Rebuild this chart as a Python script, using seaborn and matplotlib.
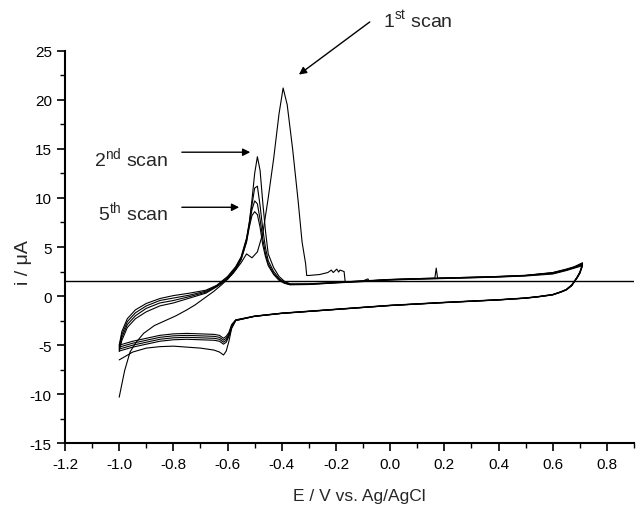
# Load libraries
import numpy as np
import pandas as pd
import matplotlib.pyplot as plt
import seaborn as sns
from matplotlib.ticker import MultipleLocator, FormatStrFormatter

# Potentials (V vs Ag/AgCl) for the anodic sweep of scans 2-5
E_up = [-1.00, -0.99, -0.97, -0.94, -0.90, -0.85, -0.80, -0.74, -0.68, -0.64,
        -0.60, -0.57, -0.55, -0.53, -0.52, -0.51, -0.50, -0.49, -0.48, -0.47,
        -0.46, -0.45, -0.43, -0.41, -0.39, -0.37, -0.30, -0.20, -0.10, 0.00,
        0.10, 0.20, 0.30, 0.40, 0.50, 0.60, 0.65, 0.68, 0.71]

# Potentials for the cathodic sweep (all scans)
E_down = [0.71, 0.705, 0.70, 0.69, 0.68, 0.67, 0.65, 0.63, 0.60, 0.55,
          0.50, 0.40, 0.20, 0.00, -0.20, -0.40, -0.50, -0.57, -0.585, -0.595,
          -0.605, -0.615, -0.63, -0.65, -0.70, -0.75, -0.80, -0.85, -0.90, -0.95,
          -1.00]

# 1st scan, anodic sweep (own potentials, noisy after the big peak)
E1_up = [-1.00, -0.98, -0.96, -0.94, -0.91, -0.87, -0.83, -0.79, -0.75, -0.72,
         -0.68, -0.65, -0.62, -0.58, -0.55, -0.53, -0.51, -0.49, -0.47, -0.45,
         -0.43, -0.41, -0.395, -0.38, -0.36, -0.34, -0.325, -0.312, -0.308, -0.30,
         -0.26, -0.23, -0.217, -0.21, -0.197, -0.19, -0.185, -0.17, -0.166, -0.10,
         -0.082, -0.078, 0.0, 0.10, 0.165, 0.17, 0.175, 0.30, 0.40, 0.50,
         0.60, 0.65, 0.68, 0.71]
i1_up = [-10.3, -7.6, -5.7, -4.8, -3.8, -3.0, -2.5, -2.0, -1.4, -0.9,
         -0.1, 0.5, 1.2, 2.3, 3.4, 4.3, 3.9, 4.5, 6.4, 10.0,
         14.0, 18.6, 21.2, 19.5, 15.0, 9.8, 5.5, 3.3, 2.1, 2.1,
         2.2, 2.4, 2.65, 2.4, 2.75, 2.45, 2.65, 2.5, 1.45, 1.55,
         1.75, 1.55, 1.68, 1.78, 1.83, 2.85, 1.83, 1.92, 2.0, 2.1,
         2.38, 2.7, 2.95, 3.3]
i1_down = [3.3, 2.8, 2.4, 1.9, 1.5, 1.1, 0.65, 0.42, 0.14, -0.05,
           -0.2, -0.38, -0.65, -0.95, -1.35, -1.75, -2.05, -2.5, -3.3, -4.6,
           -5.6, -6.0, -5.7, -5.5, -5.3, -5.2, -5.1, -5.15, -5.3, -5.7,
           -6.5]

# scans 2-5 (uA)
i2_up = [-5.0, -3.6, -2.3, -1.4, -0.75, -0.25, 0.05, 0.3, 0.6, 1.1,
         2.0, 3.0, 4.0, 5.9, 7.5, 9.8, 12.5, 14.2, 12.8, 9.5,
         6.6, 4.3, 2.9, 2.0, 1.5, 1.25, 1.25, 1.4, 1.55, 1.7,
         1.78, 1.85, 1.92, 2.0, 2.12, 2.4, 2.75, 3.0, 3.4]
i2_down = [3.4, 2.85, 2.45, 1.95, 1.55, 1.15, 0.68, 0.45, 0.17, -0.03,
           -0.18, -0.36, -0.63, -0.93, -1.33, -1.73, -2.03, -2.42, -2.9, -3.7,
           -4.1, -4.3, -4.0, -3.9, -3.85, -3.8, -3.85, -4.0, -4.3, -4.6,
           -5.0]

i3_up = [-5.2, -3.9, -2.6, -1.7, -1.0, -0.45, -0.2, 0.1, 0.5, 1.05,
         1.9, 2.9, 3.9, 5.8, 7.4, 9.3, 11.0, 11.2, 9.2, 6.8,
         4.9, 3.6, 2.5, 1.8, 1.4, 1.2, 1.22, 1.38, 1.53, 1.68,
         1.76, 1.83, 1.9, 1.98, 2.1, 2.35, 2.7, 2.95, 3.3]
i3_down = [3.3, 2.8, 2.4, 1.9, 1.5, 1.1, 0.66, 0.43, 0.15, -0.04,
           -0.2, -0.38, -0.65, -0.95, -1.35, -1.75, -2.05, -2.45, -3.0, -3.85,
           -4.3, -4.5, -4.2, -4.1, -4.05, -4.0, -4.05, -4.2, -4.5, -4.8,
           -5.2]

i4_up = [-5.4, -4.2, -2.9, -2.0, -1.25, -0.7, -0.45, -0.05, 0.4, 1.0,
         1.8, 2.8, 3.8, 5.6, 7.2, 8.8, 9.7, 9.4, 7.8, 5.8,
         4.3, 3.3, 2.3, 1.7, 1.35, 1.18, 1.2, 1.36, 1.5, 1.66,
         1.74, 1.81, 1.88, 1.96, 2.08, 2.3, 2.65, 2.9, 3.2]
i4_down = [3.2, 2.75, 2.35, 1.88, 1.48, 1.08, 0.64, 0.41, 0.13, -0.06,
           -0.21, -0.39, -0.66, -0.96, -1.36, -1.76, -2.06, -2.47, -3.1, -4.0,
           -4.5, -4.7, -4.4, -4.3, -4.25, -4.2, -4.25, -4.4, -4.7, -5.0,
           -5.4]

i5_up = [-5.6, -4.5, -3.2, -2.3, -1.6, -1.0, -0.7, -0.2, 0.3, 0.95,
         1.7, 2.7, 3.7, 5.5, 7.0, 8.2, 8.6, 8.3, 7.0, 5.2,
         4.0, 3.1, 2.2, 1.6, 1.3, 1.15, 1.18, 1.34, 1.48, 1.64,
         1.72, 1.79, 1.86, 1.94, 2.05, 2.25, 2.6, 2.85, 3.1]
i5_down = [3.1, 2.7, 2.3, 1.85, 1.45, 1.05, 0.62, 0.4, 0.12, -0.07,
           -0.22, -0.4, -0.67, -0.97, -1.37, -1.77, -2.07, -2.48, -3.2, -4.1,
           -4.7, -4.9, -4.6, -4.5, -4.45, -4.4, -4.45, -4.6, -4.9, -5.2,
           -5.6]

baseline = 1.5

# build one long table, one closed loop per scan
frames = []
frames.append(pd.DataFrame({'E': E1_up + E_down, 'i': i1_up + i1_down, 'scan': 1}))
for n, (up, down) in enumerate([(i2_up, i2_down), (i3_up, i3_down),
                                (i4_up, i4_down), (i5_up, i5_down)], start=2):
    frames.append(pd.DataFrame({'E': E_up + E_down, 'i': up + down, 'scan': n}))
cv_data = pd.concat(frames, ignore_index=True)

sns.set_style('ticks')
plt.rcParams['font.family'] = ['Liberation Sans', 'DejaVu Sans']
plt.rcParams['mathtext.fontset'] = 'custom'
plt.rcParams['mathtext.rm'] = 'Liberation Sans'
plt.rcParams['axes.unicode_minus'] = False

fig = plt.figure(figsize=(6.36, 5.06), dpi=100)
ax = fig.add_axes([0.1022, 0.1219, 0.8947, 0.7759])

sns.lineplot(data=cv_data, x='E', y='i', units='scan', estimator=None, sort=False,
             color='black', linewidth=0.8, ax=ax)
ax.axhline(baseline, color='black', linewidth=1.0)

ax.set_xlim(-1.2, 0.9)
ax.set_ylim(-15, 25)
ax.xaxis.set_major_locator(MultipleLocator(0.2))
ax.xaxis.set_minor_locator(MultipleLocator(0.1))
ax.yaxis.set_major_locator(MultipleLocator(5))
ax.yaxis.set_minor_locator(MultipleLocator(2.5))
ax.xaxis.set_major_formatter(FormatStrFormatter('%.1f'))
ax.tick_params(which='major', length=6, width=1.2, labelsize=11, colors='black')
ax.tick_params(which='minor', length=3.5, width=1.0, colors='black')
sns.despine(ax=ax)
for s in ['left', 'bottom']:
    ax.spines[s].set_linewidth(1.5)
    ax.spines[s].set_color('black')

ax.set_xlabel('E / V vs. Ag/AgCl', fontsize=12.5)
ax.set_ylabel('i / μA', fontsize=14)
ax.xaxis.set_label_coords(0.517, -0.114)
ax.yaxis.set_label_coords(-0.058, 0.464)

# scan labels with arrows
arrow = dict(arrowstyle='-|>', color='black', lw=1.0, mutation_scale=11)
ax.annotate('', xy=(-0.345, 22.4), xytext=(-0.067, 28.1), arrowprops=arrow,
            annotation_clip=False)
ax.annotate('', xy=(-0.506, 14.66), xytext=(-0.779, 14.66), arrowprops=arrow)
ax.annotate('', xy=(-0.547, 9.05), xytext=(-0.779, 9.05), arrowprops=arrow)
ax.text(-0.025, 27.4, r'1$^{\mathrm{st}}$ scan', fontsize=14, va='baseline', clip_on=False)
ax.text(-1.093, 13.2, r'2$^{\mathrm{nd}}$ scan', fontsize=14, va='baseline')
ax.text(-1.078, 7.76, r'5$^{\mathrm{th}}$ scan', fontsize=14, va='baseline')

fig.savefig('out.png', dpi=100)
